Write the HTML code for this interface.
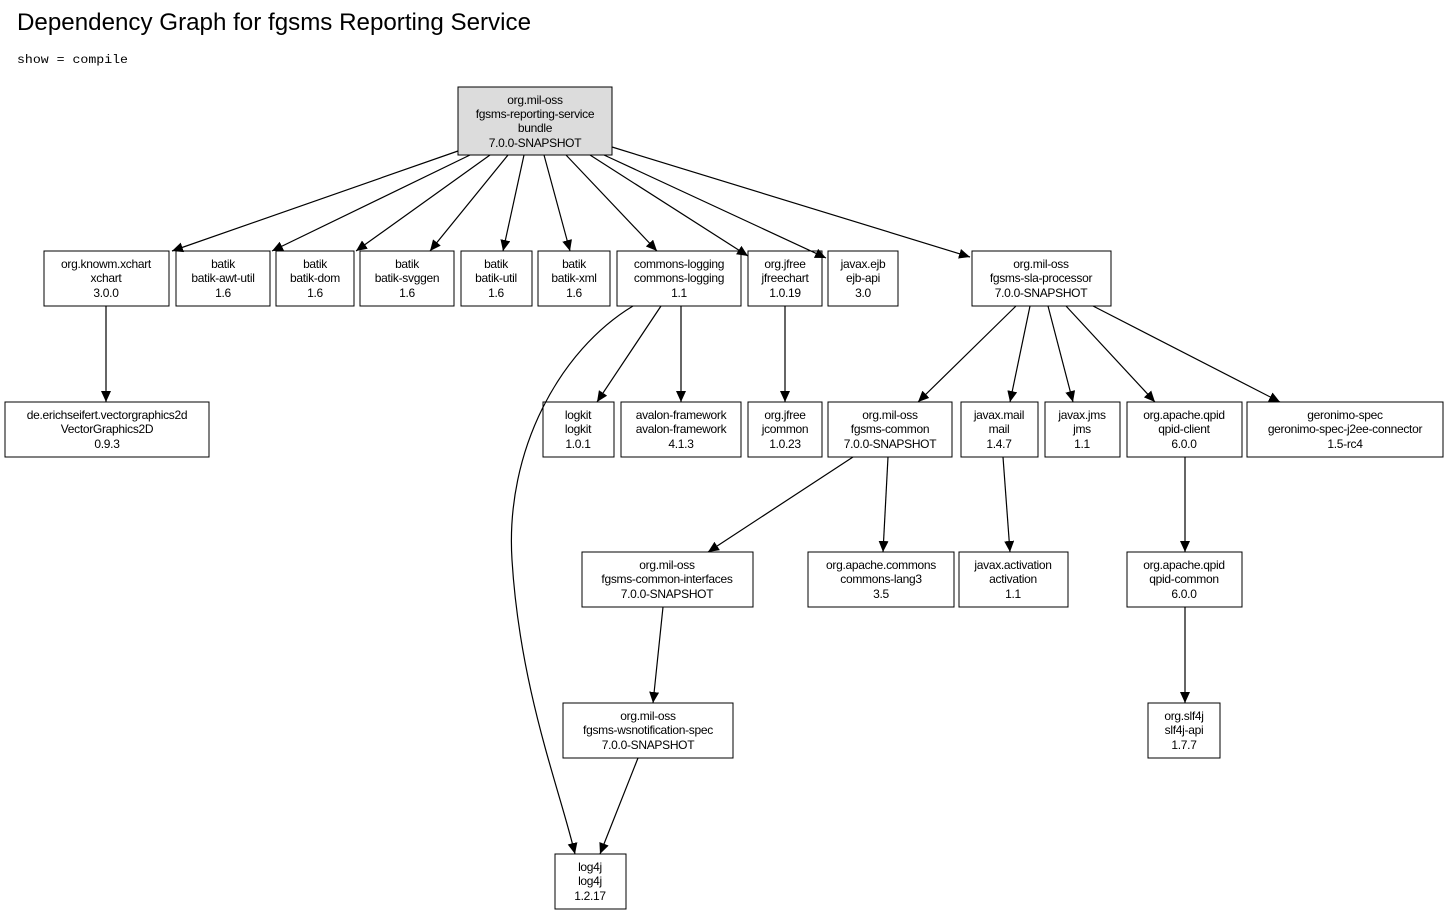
<!DOCTYPE html>
<html><head><meta charset="utf-8"><style>
body{margin:0;background:#fff;}
svg text{font-family:"Liberation Sans",Arial,sans-serif;}
.n text{font-size:12px;text-anchor:middle;letter-spacing:-0.3px;}
</style></head><body>
<svg width="1449" height="915" xmlns="http://www.w3.org/2000/svg">
<defs><marker id="a" markerUnits="userSpaceOnUse" markerWidth="12" markerHeight="10" refX="11" refY="5" orient="auto"><path d="M0,0 L11,5 L0,10 z" fill="#000"/></marker></defs>
<text x="17" y="30" font-size="24" textLength="514" lengthAdjust="spacingAndGlyphs">Dependency Graph for fgsms Reporting Service</text>
<text x="17" y="63" font-size="12" textLength="111" lengthAdjust="spacingAndGlyphs" style="font-family:'Liberation Mono',monospace">show = compile</text>
<g class="n" stroke="#000" stroke-width="1" fill="#fff">
<rect x="458" y="87" width="154" height="68" fill="#dcdcdc"/>
<rect x="44" y="251" width="125" height="55"/>
<rect x="176" y="251" width="94" height="55"/>
<rect x="276" y="251" width="78" height="55"/>
<rect x="360" y="251" width="94" height="55"/>
<rect x="461" y="251" width="71" height="55"/>
<rect x="538" y="251" width="72" height="55"/>
<rect x="617" y="251" width="124" height="55"/>
<rect x="748" y="251" width="74" height="55"/>
<rect x="828" y="251" width="70" height="55"/>
<rect x="972" y="251" width="139" height="55"/>
<rect x="5" y="402" width="204" height="55"/>
<rect x="543" y="402" width="71" height="55"/>
<rect x="621" y="402" width="120" height="55"/>
<rect x="748" y="402" width="74" height="55"/>
<rect x="828" y="402" width="124" height="55"/>
<rect x="961" y="402" width="77" height="55"/>
<rect x="1045" y="402" width="75" height="55"/>
<rect x="1127" y="402" width="115" height="55"/>
<rect x="1247" y="402" width="196" height="55"/>
<rect x="582" y="552" width="171" height="55"/>
<rect x="808" y="552" width="146" height="55"/>
<rect x="959" y="552" width="109" height="55"/>
<rect x="1127" y="552" width="115" height="55"/>
<rect x="563" y="703" width="170" height="55"/>
<rect x="1148" y="703" width="72" height="55"/>
<rect x="555" y="854" width="71" height="55"/>
</g>
<g stroke="#000" stroke-width="1.2" fill="none" marker-end="url(#a)">
<line x1="458" y1="151" x2="172" y2="251"/>
<line x1="470" y1="155" x2="272" y2="251"/>
<line x1="490" y1="155" x2="356" y2="251"/>
<line x1="508" y1="155" x2="430" y2="251"/>
<line x1="524" y1="155" x2="503" y2="251"/>
<line x1="544" y1="155" x2="570" y2="251"/>
<line x1="566" y1="155" x2="657" y2="251"/>
<line x1="590" y1="155" x2="748" y2="256"/>
<line x1="604" y1="155" x2="826" y2="258"/>
<line x1="612" y1="147" x2="970" y2="257"/>
<line x1="106" y1="306" x2="106" y2="402"/>
<line x1="661" y1="306" x2="597" y2="402"/>
<line x1="681" y1="306" x2="681" y2="402"/>
<path d="M633,306 C560,350 505,450 512,560 C520,690 560,790 575,854"/>
<line x1="785" y1="306" x2="785" y2="402"/>
<line x1="1016" y1="306" x2="918" y2="402"/>
<line x1="1030" y1="306" x2="1010" y2="402"/>
<line x1="1048" y1="306" x2="1073" y2="402"/>
<line x1="1066" y1="306" x2="1155" y2="402"/>
<line x1="1093" y1="306" x2="1280" y2="402"/>
<line x1="853" y1="457" x2="708" y2="552"/>
<line x1="888" y1="457" x2="883" y2="552"/>
<line x1="1003" y1="457" x2="1010" y2="552"/>
<line x1="1185" y1="457" x2="1185" y2="552"/>
<line x1="663" y1="607" x2="653" y2="703"/>
<line x1="1185" y1="607" x2="1185" y2="703"/>
<line x1="638" y1="758" x2="600" y2="854"/>
</g>
<g class="n" fill="#000">
<text x="535" y="104">org.mil-oss</text><text x="535" y="118">fgsms-reporting-service</text><text x="535" y="132">bundle</text><text x="535" y="147">7.0.0-SNAPSHOT</text>
<text x="106" y="268">org.knowm.xchart</text><text x="106" y="282">xchart</text><text x="106" y="297">3.0.0</text>
<text x="223" y="268">batik</text><text x="223" y="282">batik-awt-util</text><text x="223" y="297">1.6</text>
<text x="315" y="268">batik</text><text x="315" y="282">batik-dom</text><text x="315" y="297">1.6</text>
<text x="407" y="268">batik</text><text x="407" y="282">batik-svggen</text><text x="407" y="297">1.6</text>
<text x="496" y="268">batik</text><text x="496" y="282">batik-util</text><text x="496" y="297">1.6</text>
<text x="574" y="268">batik</text><text x="574" y="282">batik-xml</text><text x="574" y="297">1.6</text>
<text x="679" y="268">commons-logging</text><text x="679" y="282">commons-logging</text><text x="679" y="297">1.1</text>
<text x="785" y="268">org.jfree</text><text x="785" y="282">jfreechart</text><text x="785" y="297">1.0.19</text>
<text x="863" y="268">javax.ejb</text><text x="863" y="282">ejb-api</text><text x="863" y="297">3.0</text>
<text x="1041" y="268">org.mil-oss</text><text x="1041" y="282">fgsms-sla-processor</text><text x="1041" y="297">7.0.0-SNAPSHOT</text>
<text x="107" y="419">de.erichseifert.vectorgraphics2d</text><text x="107" y="433">VectorGraphics2D</text><text x="107" y="448">0.9.3</text>
<text x="578" y="419">logkit</text><text x="578" y="433">logkit</text><text x="578" y="448">1.0.1</text>
<text x="681" y="419">avalon-framework</text><text x="681" y="433">avalon-framework</text><text x="681" y="448">4.1.3</text>
<text x="785" y="419">org.jfree</text><text x="785" y="433">jcommon</text><text x="785" y="448">1.0.23</text>
<text x="890" y="419">org.mil-oss</text><text x="890" y="433">fgsms-common</text><text x="890" y="448">7.0.0-SNAPSHOT</text>
<text x="999" y="419">javax.mail</text><text x="999" y="433">mail</text><text x="999" y="448">1.4.7</text>
<text x="1082" y="419">javax.jms</text><text x="1082" y="433">jms</text><text x="1082" y="448">1.1</text>
<text x="1184" y="419">org.apache.qpid</text><text x="1184" y="433">qpid-client</text><text x="1184" y="448">6.0.0</text>
<text x="1345" y="419">geronimo-spec</text><text x="1345" y="433">geronimo-spec-j2ee-connector</text><text x="1345" y="448">1.5-rc4</text>
<text x="667" y="569">org.mil-oss</text><text x="667" y="583">fgsms-common-interfaces</text><text x="667" y="598">7.0.0-SNAPSHOT</text>
<text x="881" y="569">org.apache.commons</text><text x="881" y="583">commons-lang3</text><text x="881" y="598">3.5</text>
<text x="1013" y="569">javax.activation</text><text x="1013" y="583">activation</text><text x="1013" y="598">1.1</text>
<text x="1184" y="569">org.apache.qpid</text><text x="1184" y="583">qpid-common</text><text x="1184" y="598">6.0.0</text>
<text x="648" y="720">org.mil-oss</text><text x="648" y="734">fgsms-wsnotification-spec</text><text x="648" y="749">7.0.0-SNAPSHOT</text>
<text x="1184" y="720">org.slf4j</text><text x="1184" y="734">slf4j-api</text><text x="1184" y="749">1.7.7</text>
<text x="590" y="871">log4j</text><text x="590" y="885">log4j</text><text x="590" y="900">1.2.17</text>
</g>
</svg>
</body></html>
